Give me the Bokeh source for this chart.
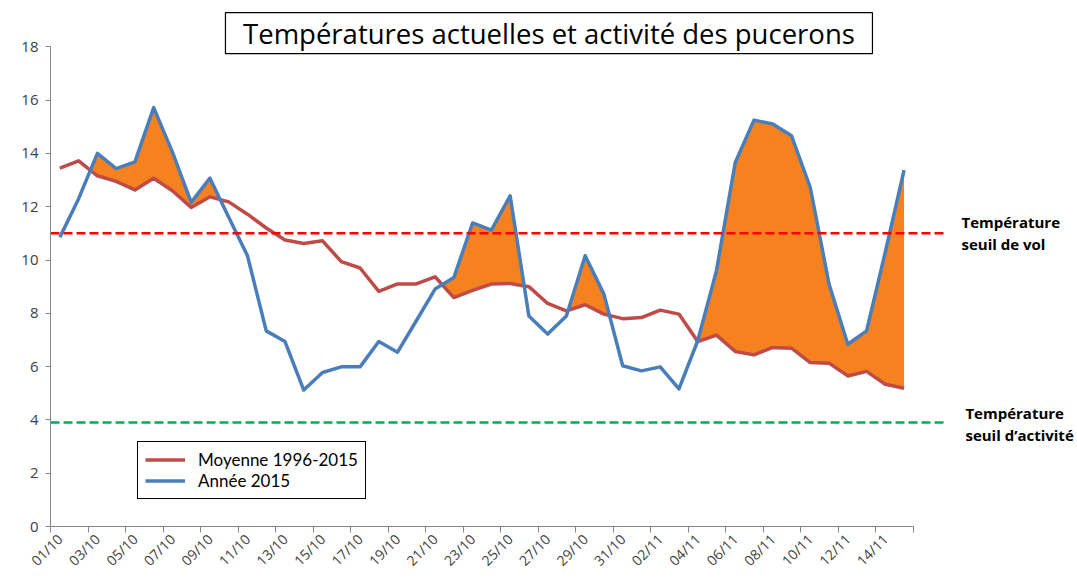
import numpy as np
from math import pi
from bokeh.plotting import figure
from bokeh.models import FixedTicker, Legend, Range1d
from bokeh.embed import file_html
from bokeh.resources import INLINE
from bokeh.core.properties import value

# ---------------- data ----------------
dates = ["01/10", "02/10", "03/10", "04/10", "05/10", "06/10", "07/10", "08/10",
         "09/10", "10/10", "11/10", "12/10", "13/10", "14/10", "15/10", "16/10",
         "17/10", "18/10", "19/10", "20/10", "21/10", "22/10", "23/10", "24/10",
         "25/10", "26/10", "27/10", "28/10", "29/10", "30/10", "31/10", "01/11",
         "02/11", "03/11", "04/11", "05/11", "06/11", "07/11", "08/11", "09/11",
         "10/11", "11/11", "12/11", "13/11", "14/11", "15/11"]

moyenne = [13.45, 13.72, 13.16, 12.95, 12.63, 13.07, 12.60, 11.97, 12.37, 12.18,
           11.72, 11.20, 10.75, 10.62, 10.72, 9.94, 9.70, 8.82, 9.10, 9.10,
           9.37, 8.59, 8.86, 9.10, 9.12, 9.00, 8.37, 8.09, 8.32, 7.97,
           7.80, 7.84, 8.12, 7.97, 6.94, 7.18, 6.57, 6.44, 6.72, 6.69,
           6.15, 6.13, 5.65, 5.82, 5.34, 5.19]

annee = [10.85, 12.30, 14.00, 13.43, 13.68, 15.72, 14.05, 12.16, 13.07, 11.60,
         10.16, 7.34, 6.94, 5.12, 5.78, 5.99, 5.99, 6.94, 6.54, 7.72,
         8.91, 9.34, 11.39, 11.12, 12.41, 7.90, 7.22, 7.90, 10.16, 8.72,
         6.03, 5.84, 5.99, 5.16, 6.97, 9.60, 13.66, 15.25, 15.10, 14.66,
         12.72, 9.10, 6.84, 7.34, 10.30, 13.37]

seuil_vol = 11.0
seuil_activite = 3.9
y_ticks = [0, 2, 4, 6, 8, 10, 12, 14, 16, 18]

title_text = "Températures actuelles et activité des pucerons"
label_moyenne = "Moyenne 1996-2015"
label_annee = "Année 2015"
note_vol = ["Température", "seuil de vol"]
note_act = ["Température", "seuil d\u2019activité"]

# ---------------- layout ----------------
W, H = 1077, 579
LEFT, BOTTOM, TOP, RIGHT = 50, 53, 0, 0
CW = 18.76   # px per category
UY = 26.65   # px per degree
x_start = -0.5
x_end = x_start + (W - LEFT - RIGHT) / CW
y_end = (H - BOTTOM - TOP) / UY

FONT = "Open Sans"

p = figure(width=W, height=H,
           x_range=Range1d(x_start, x_end), y_range=Range1d(0, y_end),
           output_backend="svg", toolbar_location=None,
           min_border_left=LEFT, min_border_right=RIGHT,
           min_border_top=TOP, min_border_bottom=BOTTOM)
p.outline_line_color = None
p.xgrid.visible = False
p.ygrid.visible = False
p.background_fill_color = "white"
p.border_fill_color = "white"

n = len(dates)
xs = np.arange(n, dtype=float)
b = np.array(annee)
r = np.array(moyenne)

# fill where the 2015 temperature is above the average
fx, fr, fb = [], [], []
for i in range(n):
    fx.append(xs[i]); fr.append(r[i]); fb.append(max(b[i], r[i]))
    if i < n - 1:
        d0 = b[i] - r[i]
        d1 = b[i + 1] - r[i + 1]
        if d0 * d1 < 0:
            t = d0 / (d0 - d1)
            yc = r[i] + t * (r[i + 1] - r[i])
            fx.append(xs[i] + t); fr.append(yc); fb.append(yc)
p.varea(x=fx, y1=fr, y2=fb, fill_color="#F6821F")

r_line = p.line(xs, moyenne, line_color="#BE4B48", line_width=3.5, line_join="round")
b_line = p.line(xs, annee, line_color="#4A7EBB", line_width=3.5, line_join="round")

# threshold lines
p.segment(x0=[-0.5], y0=[seuil_vol], x1=[47.3], y1=[seuil_vol],
          line_color="#FF0000", line_width=2.5, line_dash="9 4")
p.segment(x0=[-0.5], y0=[seuil_activite], x1=[47.3], y1=[seuil_activite],
          line_color="#00B050", line_width=2.5, line_dash="9 4")

# side notes
p.text(x=[48.06, 48.06], y=[11.43, 10.61], text=note_vol,
       text_font=value(FONT), text_font_style="bold", text_font_size="15px",
       text_baseline="middle", text_align="left", text_color="black")
p.text(x=[48.27, 48.27], y=[4.26, 3.44], text=note_act,
       text_font=value(FONT), text_font_style="bold", text_font_size="15px",
       text_baseline="middle", text_align="left", text_color="black")

# title box
p.rect(x=[26.07], y=[18.51], width=[647], height=[41],
       width_units="screen", height_units="screen",
       fill_color="white", line_color="black", line_width=1.2)
p.text(x=[26.07], y=[18.51], text=[title_text], text_font=value(FONT),
       text_font_size="27.5px", text_align="center", text_baseline="middle",
       text_color="black")

# axes
xa = p.xaxis[0]
xa.ticker = FixedTicker(ticks=list(range(0, n, 2)),
                        minor_ticks=[i - 0.5 for i in range(0, n + 1, 2)])
xa.major_label_overrides = {i: dates[i] for i in range(0, n, 2)}
xa.major_label_orientation = pi / 4
xa.major_tick_out = 0
xa.major_tick_in = 0
xa.minor_tick_out = 6
xa.minor_tick_in = 0
xa.minor_tick_line_color = "#868686"
xa.axis_line_color = "#868686"
xa.bounds = (-0.5, n - 0.5)
xa.major_label_text_font = FONT
xa.major_label_text_font_size = "14px"
xa.major_label_text_color = "#404040"
xa.major_label_standoff = 4

ya = p.yaxis[0]
ya.ticker = FixedTicker(ticks=y_ticks)
ya.bounds = (0, 18)
ya.major_tick_out = 5
ya.major_tick_in = 0
ya.minor_tick_out = 0
ya.minor_tick_in = 0
ya.major_tick_line_color = "#868686"
ya.axis_line_color = "#868686"
ya.major_label_text_font = FONT
ya.major_label_text_font_size = "15px"
ya.major_label_text_color = "#404040"
ya.major_label_standoff = 7

legend = Legend(items=[(label_moyenne, [r_line]), (label_annee, [b_line])],
                location=(87, 27), margin=0, padding=7, spacing=0,
                glyph_width=40, glyph_height=19, label_height=19,
                label_standoff=13, label_text_font="Lato",
                label_text_font_size="17px", label_text_color="black",
                border_line_color="black", border_line_width=1,
                border_line_alpha=1, background_fill_color="white",
                background_fill_alpha=1)
p.add_layout(legend)

open("out.html", "w").write(file_html(p, INLINE))
